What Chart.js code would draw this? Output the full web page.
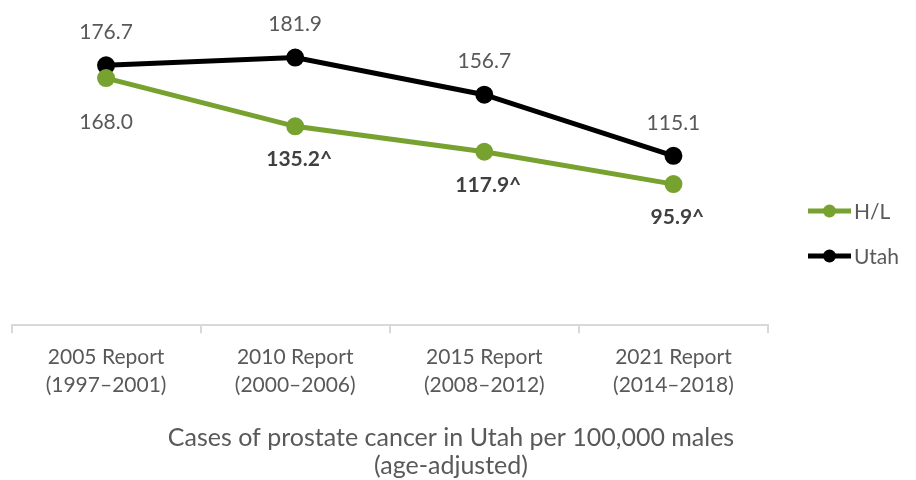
<!DOCTYPE html>
<html>
<head>
<meta charset="utf-8">
<script src="https://cdn.jsdelivr.net/npm/chart.js@4.4.1/dist/chart.umd.min.js"></script>
<style>
  body { margin: 0; background: #fff; }
  #ProstateChart { display: block; }
</style>
</head>
<body>
<canvas id="ProstateChart" width="916" height="480"></canvas>
<script>
const reportLabels = [
    ["2005 Report", "(1997–2001)"],
    ["2010 Report", "(2000–2006)"],
    ["2015 Report", "(2008–2012)"],
    ["2021 Report", "(2014–2018)"],
];
const hispanicRates = [168.0, 135.2, 117.9, 95.9];
const utahRates = [176.7, 181.9, 156.7, 115.1];
// ^ marks a significant difference from the state rate
const hispanicSignificant = [false, true, true, true];
const chartTitle = ["Cases of prostate cancer in Utah per 100,000 males", "(age-adjusted)"];

const GREEN = "#78a22f";
const TEXT_GREY = "#595959";
const FONT = "Lato, 'Open Sans', sans-serif";

// value labels: Utah above the points, H/L below
const valueLabels = {
    id: "valueLabels",
    afterDatasetsDraw(chart) {
        const ctx = chart.ctx;
        ctx.save();
        ctx.textAlign = "center";
        ctx.textBaseline = "middle";
        chart.getDatasetMeta(1).data.forEach((pt, i) => {
            ctx.font = "21px " + FONT;
            ctx.fillStyle = TEXT_GREY;
            ctx.fillText(utahRates[i].toFixed(1), pt.x, pt.y - 33);
        });
        chart.getDatasetMeta(0).data.forEach((pt, i) => {
            const sig = hispanicSignificant[i];
            ctx.font = (sig ? "bold " : "") + "21px " + FONT;
            ctx.fillStyle = sig ? "#404040" : TEXT_GREY;
            const text = hispanicRates[i].toFixed(1) + (sig ? "^" : "");
            const dy = i === 0 ? 44 : 33;
            ctx.fillText(text, pt.x + (sig ? 4 : 0), pt.y + dy);
        });
        ctx.restore();
    },
};

// legend on the right plus the two-line title under the axis
const sideLegendAndTitle = {
    id: "sideLegendAndTitle",
    afterDraw(chart) {
        const ctx = chart.ctx;
        ctx.save();
        ctx.font = "21px " + FONT;
        ctx.textBaseline = "middle";
        ctx.textAlign = "left";
        chart.data.datasets.forEach((ds, i) => {
            const y = 211 + i * 45;
            ctx.strokeStyle = ds.borderColor;
            ctx.lineWidth = 5;
            ctx.beginPath();
            ctx.moveTo(808, y);
            ctx.lineTo(851, y);
            ctx.stroke();
            ctx.fillStyle = ds.borderColor;
            ctx.beginPath();
            ctx.arc(829.5, y, 6.5, 0, Math.PI * 2);
            ctx.fill();
            ctx.fillStyle = TEXT_GREY;
            ctx.fillText(ds.label, 854, y + 1);
        });

        ctx.font = "25px " + FONT;
        ctx.textAlign = "center";
        chartTitle.forEach((line, i) => {
            ctx.fillText(line, 451, 438 + i * 28);
        });
        ctx.restore();
    },
};

new Chart(document.getElementById("ProstateChart"), {
    type: "line",
    data: {
        labels: reportLabels,
        datasets: [
            {
                label: "H/L",
                data: hispanicRates,
                borderColor: GREEN,
                backgroundColor: GREEN,
                borderWidth: 5,
                pointRadius: 6.5,
                pointHoverRadius: 6.5,
                tension: 0,
            },
            {
                label: "Utah",
                data: utahRates,
                borderColor: "#000000",
                backgroundColor: "#000000",
                borderWidth: 5,
                pointRadius: 6.5,
                pointHoverRadius: 6.5,
                tension: 0,
            },
        ],
    },
    options: {
        responsive: false,
        animation: false,
        layout: {
            padding: { left: 11, right: 148, top: 31, bottom: 71 },
        },
        plugins: {
            legend: { display: false },
            tooltip: { enabled: false },
        },
        scales: {
            x: {
                offset: true,
                grid: {
                    offset: true,
                    drawOnChartArea: false,
                    color: "#d9d9d9",
                    lineWidth: 2,
                    tickLength: 8,
                },
                border: { color: "#d9d9d9", width: 2 },
                ticks: {
                    color: TEXT_GREY,
                    font: { family: FONT, size: 21, lineHeight: 1.33 },
                    padding: 10,
                    maxRotation: 0,
                },
            },
            y: {
                display: false,
                min: 0,
                max: 200,
            },
        },
    },
    plugins: [valueLabels, sideLegendAndTitle],
});
</script>
</body>
</html>
